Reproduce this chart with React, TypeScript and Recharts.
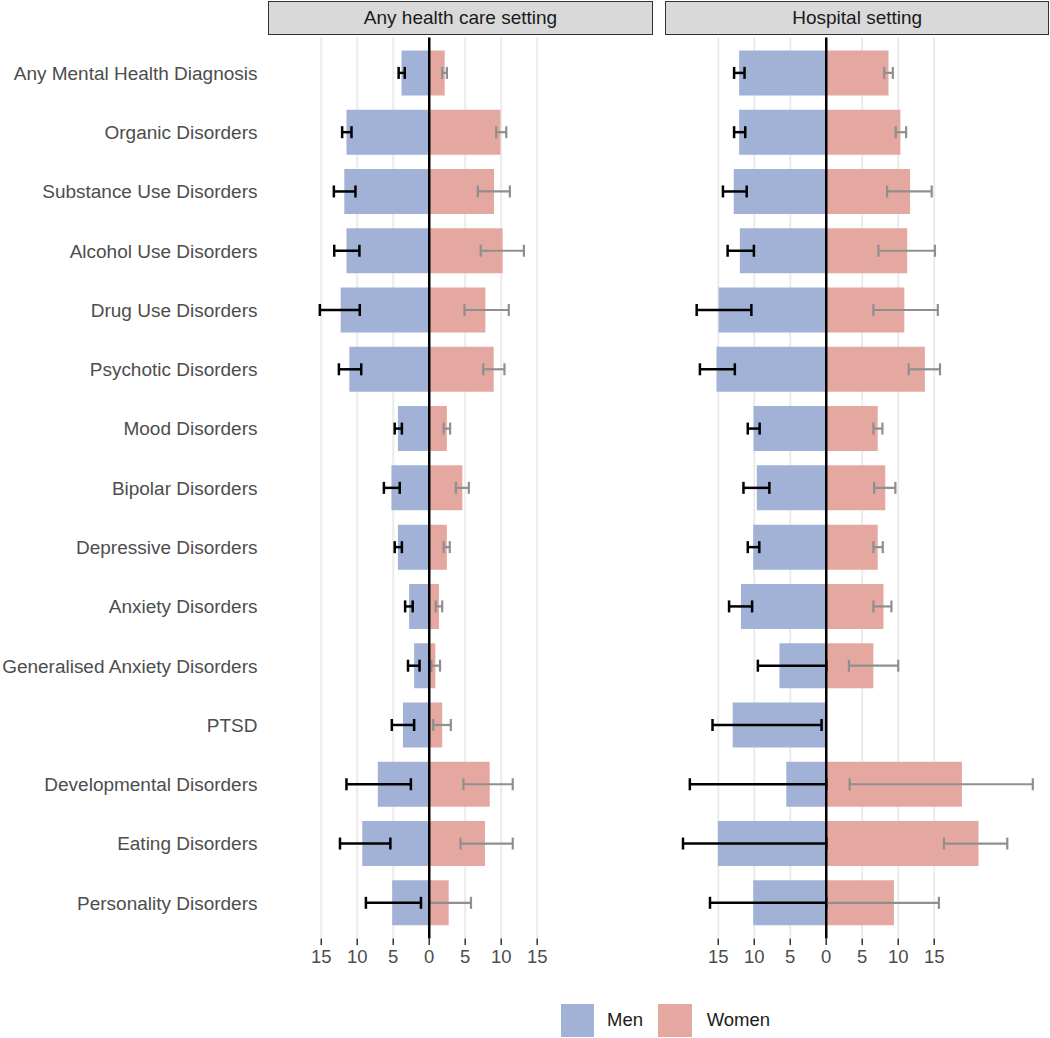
import React from 'react';
import { BarChart, Bar, XAxis, YAxis, CartesianGrid, ReferenceLine, ErrorBar } from 'recharts';

const categories = [
  'Any Mental Health Diagnosis',
  'Organic Disorders',
  'Substance Use Disorders',
  'Alcohol Use Disorders',
  'Drug Use Disorders',
  'Psychotic Disorders',
  'Mood Disorders',
  'Bipolar Disorders',
  'Depressive Disorders',
  'Anxiety Disorders',
  'Generalised Anxiety Disorders',
  'PTSD',
  'Developmental Disorders',
  'Eating Disorders',
  'Personality Disorders',
];

// Any health care setting
const anyMen = [3.85, 11.5, 11.8, 11.5, 12.3, 11.1, 4.35, 5.25, 4.35, 2.8, 2.1, 3.65, 7.15, 9.3, 5.15];
const anyMenLo = [3.4, 10.8, 10.25, 9.7, 9.65, 9.45, 3.8, 4.1, 3.8, 2.3, 1.35, 2.1, 2.55, 5.4, 1.15];
const anyMenHi = [4.25, 12.1, 13.25, 13.2, 15.2, 12.55, 4.8, 6.3, 4.8, 3.35, 2.95, 5.2, 11.5, 12.4, 8.8];
const anyWomen = [2.15, 9.9, 9.0, 10.2, 7.8, 8.95, 2.45, 4.6, 2.45, 1.35, 0.85, 1.8, 8.4, 7.75, 2.7];
const anyWomenLo = [1.8, 9.3, 6.75, 7.15, 4.9, 7.5, 2.0, 3.7, 2.0, 0.9, 0.3, 0.55, 4.75, 4.35, 0];
const anyWomenHi = [2.45, 10.7, 11.2, 13.15, 11.05, 10.45, 2.9, 5.5, 2.85, 1.8, 1.5, 3.0, 11.6, 11.6, 5.8];

// Hospital setting
const hospMen = [12.1, 12.1, 12.85, 12.0, 14.95, 15.25, 10.1, 9.65, 10.15, 11.85, 6.5, 13.0, 5.55, 15.05, 10.15];
const hospMenLo = [11.35, 11.25, 11.05, 10.05, 10.4, 12.7, 9.25, 7.9, 9.3, 10.3, 0, 0.65, 0, 0, 0];
const hospMenHi = [12.8, 12.8, 14.35, 13.7, 18.0, 17.55, 10.9, 11.5, 10.9, 13.5, 9.5, 15.8, 18.95, 19.9, 16.15];
const hospWomen = [8.65, 10.3, 11.65, 11.25, 10.85, 13.7, 7.15, 8.2, 7.15, 7.95, 6.55, 0, 18.85, 21.15, 9.4];
const hospWomenLo = [8.05, 9.65, 8.45, 7.25, 6.55, 11.45, 6.55, 6.65, 6.55, 6.55, 3.15, 0, 3.25, 16.35, 0];
const hospWomenHi = [9.25, 11.1, 14.65, 15.1, 15.5, 15.8, 7.8, 9.6, 7.85, 9.05, 10.0, 4.55, 28.7, 25.15, 15.65];

const panelTitles = ['Any health care setting', 'Hospital setting'];
const seriesNames = ['Men', 'Women'];
const xTicks = [-15, -10, -5, 0, 5, 10, 15];
const xDomain: [number, number] = [-22.4, 31.0];

const MEN_COLOR = '#A2B2D7';
const WOMEN_COLOR = '#E4A8A0';
const FONT = '"Liberation Sans", Arial, Helvetica, sans-serif';

function buildRows(men: number[], menLo: number[], menHi: number[], women: number[], womenLo: number[], womenHi: number[]) {
  return categories.map((c, i) => ({
    category: c,
    men: -men[i],
    women: women[i],
    menErr: [menHi[i] - men[i], men[i] - menLo[i]],
    womenErr: [women[i] - womenLo[i], womenHi[i] - women[i]],
  }));
}

const anyRows = buildRows(anyMen, anyMenLo, anyMenHi, anyWomen, anyWomenLo, anyWomenHi);
const hospRows = buildRows(hospMen, hospMenLo, hospMenHi, hospWomen, hospWomenLo, hospWomenHi);

const CHART_H = 1000;
const PLOT_TOP = 37.4;
const X_AXIS_H = CHART_H - 938.6;

function Panel({ data, showLabels, width, yAxisWidth }: { data: any[]; showLabels: boolean; width: number; yAxisWidth: number }) {
  return (
    <BarChart
      layout="vertical"
      width={width}
      height={CHART_H}
      data={data}
      stackOffset="sign"
      barSize={45}
      margin={{ top: PLOT_TOP, right: 0, bottom: 0, left: 0 }}
    >
      <CartesianGrid horizontal={false} vertical={true} syncWithTicks stroke="#ebebeb" strokeWidth={2} />
      <XAxis
        type="number"
        domain={xDomain}
        allowDataOverflow
        ticks={xTicks}
        interval={0}
        tickFormatter={(v: number) => String(Math.abs(v))}
        axisLine={false}
        tickSize={6.5}
        tickMargin={4.5}
        tickLine={{ stroke: '#333333', strokeWidth: 1.5 }}
        tick={{ fontSize: 18.5, fill: '#4d4d4d', fontFamily: FONT }}
        height={X_AXIS_H}
      />
      <YAxis
        type="category"
        dataKey="category"
        hide={!showLabels}
        width={yAxisWidth}
        axisLine={false}
        tickLine={false}
        tickSize={6}
        tickMargin={4.5}
        interval={0}
        padding={{ top: 6, bottom: 6 }}
        tick={{ fontSize: 19, fill: '#4d4d4d', fontFamily: FONT }}
      />
      <Bar dataKey="men" name={seriesNames[0]} stackId="s" fill={MEN_COLOR} isAnimationActive={false}>
        <ErrorBar dataKey="menErr" direction="x" width={6} stroke="#000000" strokeWidth={2.5} isAnimationActive={false} />
      </Bar>
      <Bar dataKey="women" name={seriesNames[1]} stackId="s" fill={WOMEN_COLOR} isAnimationActive={false}>
        <ErrorBar dataKey="womenErr" direction="x" width={6} stroke="#8f8f8f" strokeWidth={2.2} isAnimationActive={false} />
      </Bar>
      <ReferenceLine x={0} stroke="#000000" strokeWidth={2.5} />
    </BarChart>
  );
}

function Strip({ left, width, title }: { left: number; width: number; title: string }) {
  return (
    <div
      style={{
        position: 'absolute',
        left,
        top: 0.7,
        width,
        height: 34.6,
        boxSizing: 'border-box',
        border: '1.3px solid #333333',
        background: '#D9D9D9',
        color: '#1a1a1a',
        fontFamily: FONT,
        fontSize: 19,
        display: 'flex',
        alignItems: 'center',
        justifyContent: 'center',
      }}
    >
      {title}
    </div>
  );
}

export default function App() {
  return (
    <div style={{ position: 'absolute', left: 0, top: 0, width: 1050, height: 1038, background: '#ffffff', fontFamily: FONT }}>
      <div style={{ position: 'absolute', left: 0.3, top: 0 }}>
        <Panel data={anyRows} showLabels={true} width={652.4} yAxisWidth={268} />
      </div>
      <div style={{ position: 'absolute', left: 665, top: 0 }}>
        <Panel data={hospRows} showLabels={false} width={384.4} yAxisWidth={0} />
      </div>
      <Strip left={268.3} width={384.4} title={panelTitles[0]} />
      <Strip left={665} width={384.4} title={panelTitles[1]} />
      <div style={{ position: 'absolute', left: 560.7, top: 1003.5, width: 33.6, height: 33.6, background: MEN_COLOR }} />
      <div style={{ position: 'absolute', left: 607, top: 1003.5, height: 33.6, display: 'flex', alignItems: 'center', fontSize: 18.5, color: '#1a1a1a' }}>
        {seriesNames[0]}
      </div>
      <div style={{ position: 'absolute', left: 658.3, top: 1003.5, width: 33.6, height: 33.6, background: WOMEN_COLOR }} />
      <div style={{ position: 'absolute', left: 706.7, top: 1003.5, height: 33.6, display: 'flex', alignItems: 'center', fontSize: 18.5, color: '#1a1a1a' }}>
        {seriesNames[1]}
      </div>
    </div>
  );
}
